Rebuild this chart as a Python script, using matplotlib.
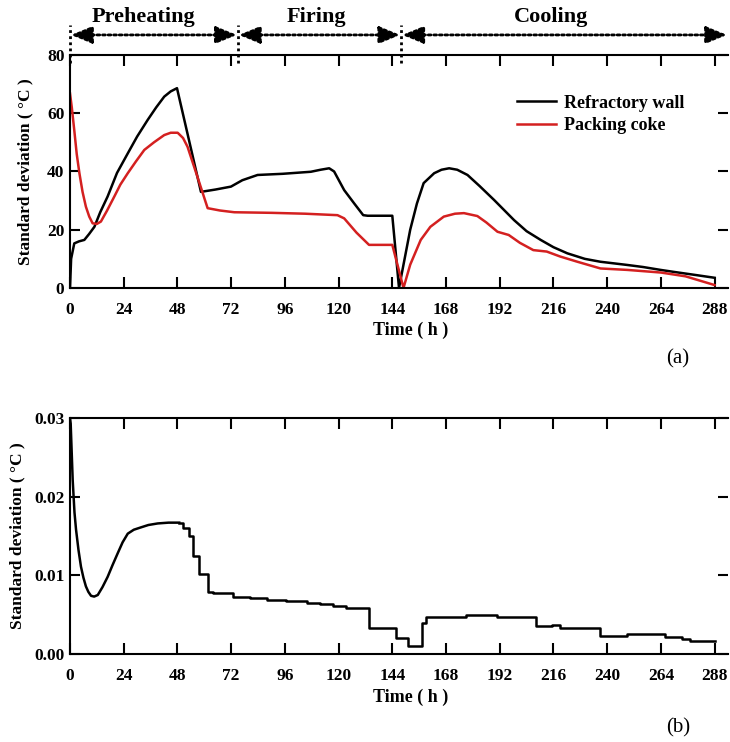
import matplotlib
matplotlib.use("Agg")
import matplotlib.pyplot as plt
import matplotlib.transforms as mtransforms

plt.rcParams['font.family'] = ['Liberation Serif', 'DejaVu Serif']
plt.rcParams['font.weight'] = 'bold'

# (a) refractory wall
wall_t = [0, 0.5, 1.9, 4, 6.4, 8.5, 10.9, 13.5, 16.8, 21, 25.8, 30, 34.7, 38.5, 42.1, 45, 47.8,
          58.5, 65, 71.9, 77, 83.8, 95, 107.6, 112, 115.8, 118, 122.5, 127, 131, 133, 144, 147,
          149, 152, 155, 158, 162.7, 166, 169.4, 173, 177.6, 183, 189.5, 198.4, 204, 210.3, 216,
          222.2, 230, 237, 249, 256, 263.9, 270, 280, 288]
wall_v = [0, 10, 15.3, 16, 16.5, 18.5, 21, 26, 31.4, 39.5, 46.2, 52, 57.7, 62, 65.7, 67.5, 68.6,
          33, 33.8, 34.8, 37, 38.8, 39.2, 39.9, 40.6, 41.1, 40, 33.6, 29, 25, 24.8, 24.8, 0,
          8, 20, 29, 36, 39.4, 40.6, 41.1, 40.6, 38.8, 35, 30.2, 23.3, 19.5, 16.5, 14,
          11.9, 10, 9.0, 7.9, 7.2, 6.2, 5.5, 4.4, 3.5]

# (a) packing coke
coke_t = [0, 0.8, 1.9, 3, 4.2, 5.6, 7.1, 8.6, 10.1, 12, 13.8, 16.5, 19.8, 22.5, 25.8, 29.5, 33.2,
          37.5, 42.1, 45, 48.1, 50.5, 52.5, 57, 61.5, 67, 73.4, 90, 105, 116.5, 119.5, 122.5, 128,
          133.6, 144, 149, 152, 156.7, 161, 167, 172, 176, 182, 186, 191, 196, 201, 207, 213, 219,
          226.7, 237, 249, 264, 275, 288]
coke_v = [66.8, 62, 54.2, 46, 39.4, 33, 27.9, 24.5, 22.2, 22, 22.8, 26.5, 31.4, 35.5, 39.4, 43.5, 47.4,
          50, 52.5, 53.3, 53.3, 51.5, 48.5, 38, 27.4, 26.6, 26, 25.8, 25.5, 25.1, 25, 23.9, 19,
          14.8, 14.8, 0, 8, 16.5, 21, 24.5, 25.5, 25.7, 24.7, 22.5, 19.3, 18.2, 15.5, 13, 12.5, 10.8,
          9, 6.7, 6.2, 5.3, 4, 1]

# (b) smooth part
b_smooth_t = [0, 0.3, 1.2, 2, 2.7, 3.8, 4.9, 6, 7.1, 8.2, 9.4, 10.8, 12.4, 14.5, 16.8, 19, 21.3,
              23.5, 25.8, 28.5, 31.7, 35, 39.2, 44, 48.8]
b_smooth_v = [0.030, 0.0293, 0.0221, 0.018, 0.0158, 0.0132, 0.0111, 0.0097, 0.0086, 0.0079, 0.0074,
              0.0073, 0.0075, 0.0085, 0.0098, 0.0113, 0.0128, 0.0142, 0.0153, 0.0158, 0.0161,
              0.0164, 0.0166, 0.0167, 0.0167]

# (b) stepped part
b_step_t = [48.8, 50.5, 53, 54.8, 57.7, 61.5, 64, 72.9, 80.4, 87.8, 96.7, 105.7, 111.6, 117.6,
            123.5, 133.6, 145.6, 150.8, 157.2, 159, 176.8, 191, 208, 215.5, 219, 236.8, 249,
            266, 273.6, 277, 288]
b_step_v = [0.0167, 0.0160, 0.0150, 0.0125, 0.0102, 0.0079, 0.0077, 0.0073, 0.0071, 0.0069,
            0.0067, 0.0065, 0.0063, 0.0061, 0.0059, 0.0033, 0.0020, 0.0010, 0.0039, 0.0047,
            0.0050, 0.0047, 0.0035, 0.0037, 0.0033, 0.0023, 0.0025, 0.0022, 0.0019, 0.0017, 0.0017]

xticks = list(range(0, 289, 24))
phase_names = ["Preheating", "Firing", "Cooling"]
phase_bounds = [0, 75, 148, 294]
phase_label_x = [33, 110, 215]

fig = plt.figure(figsize=(7.3, 7.42), dpi=100)
ax1 = fig.add_axes([0.0959, 0.6119, 0.9014, 0.314])
ax2 = fig.add_axes([0.0959, 0.1186, 0.9014, 0.318])


def style_axis(ax, ymax, yticks, ylabels, ylabel_x):
    ax.set_xlim(0, 294)
    ax.set_ylim(0, ymax)
    ax.set_xticks(xticks)
    ax.set_yticks(yticks)
    ax.set_yticklabels(ylabels)
    ax.tick_params(direction='in', top=True, right=True, length=8, width=1.5,
                   labelsize=12.5)
    ax.tick_params(axis='x', pad=10)
    ax.tick_params(axis='y', right=True, length=7, pad=4)
    for lab in ax.get_xticklabels() + ax.get_yticklabels():
        lab.set_fontweight('bold')
    for s in ['left', 'top', 'bottom']:
        ax.spines[s].set_linewidth(1.5)
    ax.spines['right'].set_visible(False)
    ax.set_xlabel("Time ( h )", fontsize=13, fontweight='bold')
    ax.xaxis.set_label_coords(0.518, -0.145)
    ax.set_ylabel("Standard deviation ( °C )", fontsize=12.5, fontweight='bold')
    ax.yaxis.set_label_coords(ylabel_x, 0.5)


ax1.plot(wall_t, wall_v, color='black', lw=1.8, label="Refractory wall")
ax1.plot(coke_t, coke_v, color='#d42020', lw=1.8, label="Packing coke")
style_axis(ax1, 80, [0, 20, 40, 60, 80], ["0", "20", "40", "60", "80"], -0.055)
leg = ax1.legend(loc='upper left', bbox_to_anchor=(0.655, 0.9), frameon=False,
                 prop={'family': 'Liberation Serif', 'weight': 'bold', 'size': 13},
                 handlelength=2.15, handletextpad=0.45, labelspacing=0.3)

ax2.plot(b_smooth_t, b_smooth_v, color='black', lw=1.8)
ax2.plot(b_step_t, b_step_v, color='black', lw=1.8, drawstyle='steps-post')
style_axis(ax2, 0.03, [0, 0.01, 0.02, 0.03], ["0.00", "0.01", "0.02", "0.03"], -0.068)

# phase annotations above panel (a)
trans = mtransforms.blended_transform_factory(ax1.transData, ax1.transAxes)
for xb in phase_bounds[:3]:
    ax1.plot([xb, xb], [0.966, 1.13], transform=trans, color='black', lw=2,
             ls=(0, (1, 1.2)), clip_on=False)
for i, name in enumerate(phase_names):
    x0, x1 = phase_bounds[i], phase_bounds[i + 1]
    ax1.annotate("", xy=(x1 - 0.5, 1.086), xytext=(x0 + 0.5, 1.086),
                 xycoords=trans, textcoords=trans,
                 arrowprops=dict(arrowstyle='<|-|>,head_length=0.85,head_width=0.35',
                                 mutation_scale=15, color='black', lw=2, ls=(0, (1, 1)),
                                 shrinkA=0, shrinkB=0))
    ax1.text(phase_label_x[i], 1.165, name, transform=trans,
             ha='center', va='center', fontsize=16, fontweight='bold')

fig.text(0.929, 0.517, "(a)", fontsize=15, fontweight='normal', ha='center', va='center')
fig.text(0.929, 0.019, "(b)", fontsize=15, fontweight='normal', ha='center', va='center')

fig.savefig("out.png", dpi=100)
